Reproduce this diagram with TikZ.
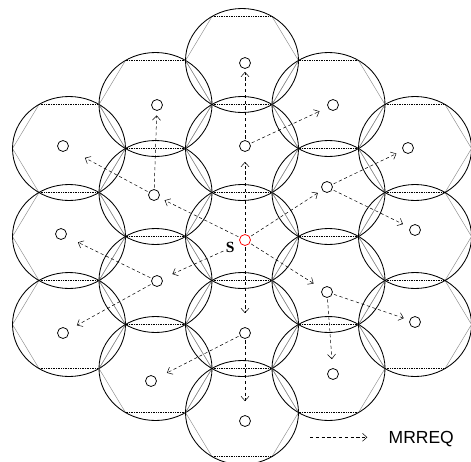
\documentclass[tikz,border=0pt]{standalone}
\usepackage{fontspec}
\setmainfont{Liberation Serif}
\newfontfamily\arialf{Liberation Sans}
\usetikzlibrary{arrows.meta}
\begin{document}
\begin{tikzpicture}[x=1pt,y=-1pt,
  ell/.style={line width=0.85pt},
  hexh/.style={dash pattern=on 0.8pt off 0.9pt, line width=0.6pt},
  hexs/.style={black!45, line width=0.45pt},
  cell/.style={circle, draw, line width=0.75pt, minimum size=11pt, inner sep=0pt},
  srccell/.style={cell, draw=red},
  arr/.style={line width=0.5pt, dash pattern=on 3.2pt off 2.6pt, -{Straight Barb[length=4.5pt,width=8pt]}, shorten <=1.5pt}
]
\clip (0,0) rectangle (471,461);
% hexagonal cells with their ellipses
\foreach \cx/\yo/\n in {69/148.5/2, 155.5/104.5/3, 242/60.5/4, 328.5/104.5/3, 415/148.5/2}{
  \foreach \j in {0,...,\n}{
    \pgfmathsetmacro\cy{\yo+88*\j}
    \begin{scope}[shift={(\cx,\cy)}]
      \draw[hexs] (30,-44) -- (56.5,0) -- (30,44);
      \draw[hexs] (-30,-44) -- (-56.5,0) -- (-30,44);
      \draw[hexh] (-30,-44) -- (30,-44);
      \draw[hexh] (-30,44) -- (30,44);
      \draw[ell] (0,0) ellipse [x radius=56.5pt, y radius=52pt];
    \end{scope}
  }
}
% cell centres
\node[cell] (n1) at (63,146) {};
\node[cell] (n2) at (61,234) {};
\node[cell] (n3) at (63,333) {};
\node[cell] (n4) at (157,105) {};
\node[cell] (n5) at (154,195) {};
\node[cell] (n6) at (157,281) {};
\node[cell] (n7) at (151,381) {};
\node[cell] (n8) at (245,63) {};
\node[cell] (n9) at (245,146) {};
\node[srccell] (s) at (245,240) {};
\node[cell] (n10) at (245,333) {};
\node[cell] (n11) at (245,421) {};
\node[cell] (n12) at (333,105) {};
\node[cell] (n13) at (327,187) {};
\node[cell] (n14) at (327,292) {};
\node[cell] (n15) at (333,374) {};
\node[cell] (n16) at (408,148) {};
\node[cell] (n17) at (415,230) {};
\node[cell] (n18) at (415,322) {};
\node[font=\bfseries\fontsize{15.5}{16}\selectfont, inner sep=1pt] (slab) at (230.3,247.9) {S};
% MRREQ arrows
\draw[arr, shorten >=10pt] (s) -- (n9);
\draw[arr, shorten >=3pt] (n9) -- (n8);
\draw[arr, shorten >=5pt] (s) -- (n13);
\draw[arr, shorten >=9pt] (n9) -- (n12);
\draw[arr, shorten >=7pt] (n13) -- (n16);
\draw[arr, shorten >=7.5pt] (n13) -- (n17);
\draw[arr, shorten >=10pt] (s) -- (n14);
\draw[arr, shorten >=6pt] (n14) -- (n18);
\draw[arr, shorten >=9pt] (n14) -- (n15);
\draw[arr, shorten >=14pt] (s) -- (n10);
\draw[arr, shorten >=14pt] (n10) -- (n11);
\draw[arr, shorten >=11pt] (slab) -- (n6);
\draw[arr, shorten >=12pt] (n10) -- (n7);
\draw[arr, shorten >=6pt] (s) -- (n5);
\draw[arr, shorten >=4.5pt] (n5) -- (n4);
\draw[arr, shorten >=19pt] (n5) -- (n1);
\draw[arr, shorten >=13pt] (n6) -- (n2);
\draw[arr, shorten >=10pt] (n6) -- (n3);
% legend
\coordinate (lga) at (310,437.3);
\coordinate (lgb) at (367.3,437.3);
\draw[arr, shorten <=0pt] (lga) -- (lgb);
\node[font=\arialf\fontsize{17.5}{18}\selectfont, anchor=west, inner sep=0pt] (lgt) at (388.5,439) {MRREQ};
\end{tikzpicture}
\end{document}
